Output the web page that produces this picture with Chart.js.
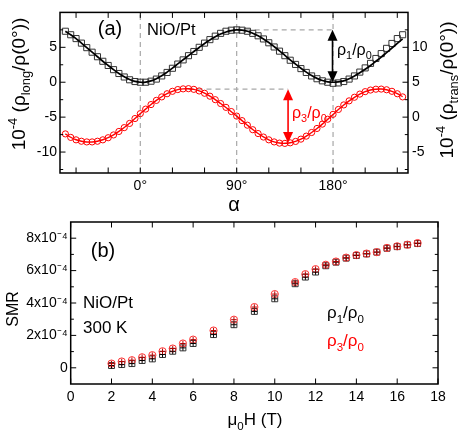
<!DOCTYPE html>
<html><head><meta charset="utf-8">
<script src="https://cdn.jsdelivr.net/npm/chart.js@4/dist/chart.umd.min.js"></script>
<style>
body{margin:0;background:#fff;width:463px;height:433px;overflow:hidden}
canvas{position:absolute;left:0;top:0}
</style></head>
<body>
<canvas id="ca" width="463" height="433"></canvas>
<canvas id="cb" width="463" height="433"></canvas>
<script>
// ---------- DATA ----------
const alphaDeg = [-70,-65,-60,-55,-50,-45,-40,-35,-30,-25,-20,-15,-10,-5,0,5,10,15,20,25,30,35,40,45,50,55,60,65,70,75,80,85,90,95,100,105,110,115,120,125,130,135,140,145,150,155,160,165,170,175,180,185,190,195,200,205,210,215,220,225,230,235,240,245];
// rho_long (left axis, 1e-4) measured squares
const rhoLongPts = [7.3,6.8,6.25,5.6,4.95,4.3,3.65,3.0,2.4,1.8,1.25,0.75,0.35,0.1,0.0,0.0,0.15,0.45,0.9,1.4,2.0,2.6,3.2,3.8,4.4,5.0,5.6,6.1,6.6,7.0,7.3,7.45,7.5,7.45,7.3,7.0,6.65,6.2,5.65,5.05,4.45,3.8,3.15,2.55,1.95,1.4,0.9,0.5,0.2,0.0,-0.15,-0.1,0.1,0.45,0.9,1.45,2.05,2.7,3.4,4.1,4.85,5.55,6.25,6.8];
// rho_long fit line
const rhoLongFit = [7.3,6.8,6.25,5.6,4.95,4.3,3.65,3.0,2.4,1.8,1.25,0.78,0.4,0.12,0.0,0.02,0.2,0.5,0.92,1.45,2.02,2.62,3.22,3.8,4.4,4.98,5.55,6.05,6.5,6.9,7.2,7.4,7.5,7.45,7.3,7.02,6.65,6.2,5.68,5.1,4.5,3.85,3.2,2.6,2.0,1.45,0.95,0.55,0.25,0.06,0.0,0.05,0.2,0.5,0.9,1.35,1.85,2.4,3.0,3.6,4.25,4.9,5.55,6.2];
// rho_trans (right axis, 1e-4) measured circles
const rhoTransPts = [-2.4,-2.9,-3.25,-3.45,-3.55,-3.55,-3.45,-3.25,-2.95,-2.55,-2.05,-1.5,-0.9,-0.2,0.5,1.15,1.8,2.4,2.9,3.35,3.7,3.95,4.05,4.08,3.98,3.75,3.42,3.0,2.5,1.95,1.4,0.8,0.15,-0.5,-1.15,-1.8,-2.35,-2.85,-3.25,-3.55,-3.72,-3.76,-3.68,-3.48,-3.15,-2.72,-2.2,-1.62,-1.0,-0.3,0.4,1.1,1.75,2.33,2.85,3.3,3.65,3.88,4.0,4.02,3.92,3.7,3.35,2.9];
// rho_trans fit line
const rhoTransFit = [-2.4,-2.88,-3.24,-3.46,-3.56,-3.56,-3.45,-3.24,-2.94,-2.54,-2.04,-1.48,-0.88,-0.2,0.5,1.15,1.8,2.4,2.92,3.36,3.7,3.94,4.05,4.07,3.98,3.76,3.43,3.0,2.5,1.95,1.38,0.78,0.14,-0.5,-1.15,-1.78,-2.34,-2.84,-3.24,-3.54,-3.71,-3.75,-3.67,-3.47,-3.15,-2.72,-2.2,-1.62,-1.0,-0.32,0.38,1.08,1.73,2.32,2.84,3.28,3.64,3.88,4.0,4.02,3.92,3.7,3.36,2.92];
const alphaTickVals = [-60,-30,0,30,60,90,120,150,180,210,240];
const alphaLabelVals = [0,90,180];
const longTickVals = [-10,-5,0,5];
const transTickVals = [-5,0,5,10];

const fieldT = [2,2.5,3,3.5,4,4.5,5,5.5,6,7,8,9,10,11,11.5,12,12.5,13,13.5,14,14.5,15,15.5,16,16.5,17];
// SMR in units of 1e-4
const smrRho1 = [0.14,0.2,0.26,0.45,0.55,0.82,1.02,1.23,1.5,2.05,2.66,3.48,4.26,5.19,5.6,5.91,6.3,6.52,6.77,6.93,7.03,7.14,7.38,7.48,7.59,7.67];
const smrRho3 = [0.26,0.39,0.47,0.65,0.78,1.02,1.19,1.5,1.74,2.3,2.97,3.75,4.55,5.29,5.78,6.09,6.36,6.56,6.8,6.96,7.05,7.14,7.4,7.5,7.6,7.7];
const fieldTickVals = [0,2,4,6,8,10,12,14,16,18];
const smrTickVals = [0,2,4,6,8];
const smrTickLabels = ['0','2x10\u207B\u2074','4x10\u207B\u2074','6x10\u207B\u2074','8x10\u207B\u2074'];

// ---------- HELPERS ----------
const FONT = "'Liberation Sans', Arial, Helvetica, sans-serif";
const pts = (xs, ys) => xs.map((x, i) => ({x, y: ys[i]}));

function rich(ctx, parts, x, y, size, color, align, rot) {
  ctx.save();
  ctx.translate(x, y);
  if (rot) ctx.rotate(rot);
  ctx.fillStyle = color;
  ctx.textBaseline = 'alphabetic';
  let w = 0;
  const items = parts.map(([t, m]) => {
    const fs = m === 'n' ? size : size * 0.68;
    ctx.font = fs + 'px ' + FONT;
    const mw = ctx.measureText(t).width;
    const dy = m === 'sub' ? size * 0.28 : (m === 'sup' ? -size * 0.42 : 0);
    const it = {t, fs, dx: w, dy};
    w += mw;
    return it;
  });
  const x0 = align === 'center' ? -w / 2 : (align === 'right' ? -w : 0);
  for (const it of items) {
    ctx.font = it.fs + 'px ' + FONT;
    ctx.fillText(it.t, x0 + it.dx, size * 0.35 + it.dy);
  }
  ctx.restore();
}

function arrow(ctx, x, y1, y2, color) {
  const hl = 11, hw = 5;
  ctx.save();
  ctx.strokeStyle = color; ctx.fillStyle = color; ctx.lineWidth = 1.6;
  ctx.beginPath(); ctx.moveTo(x, y1 + hl - 1); ctx.lineTo(x, y2 - hl + 1); ctx.stroke();
  ctx.beginPath(); ctx.moveTo(x, y1); ctx.lineTo(x - hw, y1 + hl); ctx.lineTo(x + hw, y1 + hl); ctx.closePath(); ctx.fill();
  ctx.beginPath(); ctx.moveTo(x, y2); ctx.lineTo(x - hw, y2 - hl); ctx.lineTo(x + hw, y2 - hl); ctx.closePath(); ctx.fill();
  ctx.restore();
}

function midpoints(vals, s) {
  const out = [];
  const step = vals[1] - vals[0];
  const all = [vals[0] - step, ...vals, vals[vals.length - 1] + step];
  for (let i = 0; i < all.length - 1; i++) {
    const m = (all[i] + all[i + 1]) / 2;
    if (m > s.min && m < s.max) out.push(m);
  }
  return out;
}

// frame + inward ticks
const frameTicks = {
  id: 'frameTicks',
  afterDatasetsDraw(chart, args, opts) {
    const {ctx, chartArea: a} = chart;
    ctx.save();
    ctx.strokeStyle = '#000';
    ctx.lineWidth = 1;
    const L = 5.5, Lm = 3.2;
    for (const spec of opts.axes) {
      const s = chart.scales[spec.id];
      const majors = s.ticks.map(t => t.value);
      const minors = spec.minor ? midpoints(majors, s) : [];
      const one = (v, len) => {
        const p = s.getPixelForValue(v);
        ctx.beginPath();
        if (s.isHorizontal()) {
          ctx.moveTo(p, a.bottom); ctx.lineTo(p, a.bottom - len);
          if (spec.mirror) { ctx.moveTo(p, a.top); ctx.lineTo(p, a.top + len); }
        } else if (s.position === 'left') {
          ctx.moveTo(a.left, p); ctx.lineTo(a.left + len, p);
          if (spec.mirror) { ctx.moveTo(a.right, p); ctx.lineTo(a.right - len, p); }
        } else {
          ctx.moveTo(a.right, p); ctx.lineTo(a.right - len, p);
        }
        ctx.stroke();
      };
      majors.forEach(v => one(v, L));
      minors.forEach(v => one(v, Lm));
    }
    ctx.lineWidth = 1.5;
    ctx.strokeRect(a.left, a.top, a.right - a.left, a.bottom - a.top);
    ctx.restore();
  }
};

// ---------- TOP CHART ----------
const annotA = {
  id: 'annotA',
  beforeDatasetsDraw(chart) {
    const {ctx, chartArea: a, scales: {x, yL, yR}} = chart;
    ctx.save();
    ctx.strokeStyle = '#a8a8a8'; ctx.lineWidth = 1.2; ctx.setLineDash([5, 4]);
    for (const v of alphaLabelVals) {
      const px = x.getPixelForValue(v);
      ctx.beginPath(); ctx.moveTo(px, a.bottom); ctx.lineTo(px, a.top); ctx.stroke();
    }
    let yy = yL.getPixelForValue(7.5);
    ctx.beginPath(); ctx.moveTo(x.getPixelForValue(90), yy); ctx.lineTo(x.getPixelForValue(180), yy); ctx.stroke();
    yy = yR.getPixelForValue(4.0);
    ctx.beginPath(); ctx.moveTo(x.getPixelForValue(45), yy); ctx.lineTo(x.getPixelForValue(138), yy); ctx.stroke();
    ctx.restore();
  },
  afterDraw(chart) {
    const {ctx, scales: {x, yL, yR}} = chart;
    arrow(ctx, x.getPixelForValue(179.5), yL.getPixelForValue(7.5), yL.getPixelForValue(0), '#000');
    arrow(ctx, x.getPixelForValue(138), yR.getPixelForValue(4.0), yR.getPixelForValue(-3.7), '#ff0000');
    rich(ctx, [['ρ', 'n'], ['1', 'sub'], ['/ρ', 'n'], ['0', 'sub']], 337, 49, 16, '#000', 'left');
    rich(ctx, [['ρ', 'n'], ['3', 'sub'], ['/ρ', 'n'], ['0', 'sub']], 292, 112, 16, '#ff0000', 'left');
    rich(ctx, [['(a)', 'n']], 110, 28, 20, '#000', 'center');
    rich(ctx, [['NiO/Pt', 'n']], 147, 29, 16.5, '#000', 'left');
    rich(ctx, [['α', 'n']], 234, 204, 20, '#000', 'center');
    rich(ctx, [['10', 'n'], ['-4', 'sup'], [' (ρ', 'n'], ['long', 'sub'], ['/ρ(0°))', 'n']], 18, 84, 19, '#000', 'center', -Math.PI / 2);
    rich(ctx, [['10', 'n'], ['-4', 'sup'], [' (ρ', 'n'], ['trans', 'sub'], ['/ρ(0°))', 'n']], 446, 90, 19, '#000', 'center', -Math.PI / 2);
  }
};

const tickFont = {family: FONT, size: 14};
new Chart(document.getElementById('ca'), {
  type: 'scatter',
  data: {
    datasets: [
      {data: pts(alphaDeg, rhoLongFit), yAxisID: 'yL', showLine: true, borderColor: '#000', borderWidth: 1.7, pointRadius: 0, tension: 0.3, fill: false},
      {data: pts(alphaDeg, rhoTransFit), yAxisID: 'yR', showLine: true, borderColor: '#ff0000', borderWidth: 1.4, pointRadius: 0, tension: 0.3, fill: false},
      {data: pts(alphaDeg, rhoLongPts), yAxisID: 'yL', showLine: false, pointStyle: 'rect', pointRadius: 4.3, borderColor: '#333', borderWidth: 1, backgroundColor: 'rgba(0,0,0,0)'},
      {data: pts(alphaDeg, rhoTransPts), yAxisID: 'yR', showLine: false, pointStyle: 'circle', pointRadius: 3.1, borderColor: '#ff0000', borderWidth: 1, backgroundColor: 'rgba(0,0,0,0)'}
    ]
  },
  options: {
    responsive: false, animation: false, events: [],
    layout: {padding: {top: 10, bottom: 217, left: 0, right: 0}},
    plugins: {legend: {display: false}, tooltip: {enabled: false},
      frameTicks: {axes: [{id: 'x', mirror: true, minor: false}, {id: 'yL', minor: true}, {id: 'yR', minor: true}]}},
    scales: {
      x: {type: 'linear', min: -75, max: 250,
        afterBuildTicks: s => { s.ticks = alphaTickVals.map(v => ({value: v})); },
        afterFit: s => { s.height = 43; },
        grid: {display: false, drawTicks: false}, border: {display: false},
        ticks: {font: tickFont, color: '#000', padding: 5, autoSkip: false, maxRotation: 0,
          callback: v => alphaLabelVals.includes(v) ? v + '°' : ''}},
      yL: {type: 'linear', position: 'left', min: -13, max: 10,
        afterBuildTicks: s => { s.ticks = longTickVals.map(v => ({value: v})); },
        afterFit: s => { s.width = 60; },
        grid: {display: false, drawTicks: false}, border: {display: false},
        ticks: {font: tickFont, color: '#000', padding: 3}},
      yR: {type: 'linear', position: 'right', min: -8, max: 15,
        afterBuildTicks: s => { s.ticks = transTickVals.map(v => ({value: v})); },
        afterFit: s => { s.width = 55; },
        grid: {display: false, drawTicks: false}, border: {display: false},
        ticks: {font: tickFont, color: '#000', padding: 4}}
    }
  },
  plugins: [annotA, frameTicks]
});

// ---------- BOTTOM CHART ----------
const annotB = {
  id: 'annotB',
  afterDraw(chart) {
    const {ctx} = chart;
    rich(ctx, [['(b)', 'n']], 103, 250, 20, '#000', 'center');
    rich(ctx, [['NiO/Pt', 'n']], 83, 302, 17, '#000', 'left');
    rich(ctx, [['300 K', 'n']], 83, 327, 17, '#000', 'left');
    rich(ctx, [['ρ', 'n'], ['1', 'sub'], ['/ρ', 'n'], ['0', 'sub']], 327, 312, 17, '#000', 'left');
    rich(ctx, [['ρ', 'n'], ['3', 'sub'], ['/ρ', 'n'], ['0', 'sub']], 327, 340, 17, '#ff0000', 'left');
    rich(ctx, [['SMR', 'n']], 12, 309, 16, '#000', 'center', -Math.PI / 2);
    rich(ctx, [['μ', 'n'], ['0', 'sub'], ['H (T)', 'n']], 255, 419, 17, '#000', 'center');
  }
};

new Chart(document.getElementById('cb'), {
  type: 'scatter',
  data: {
    datasets: [
      {data: pts(fieldT, smrRho3), pointStyle: 'cross', pointRadius: 2.8, borderColor: '#b00000', borderWidth: 1, showLine: false},
      {data: pts(fieldT, smrRho1), pointStyle: 'cross', pointRadius: 2.8, borderColor: '#000', borderWidth: 1, showLine: false},
      {data: pts(fieldT, smrRho3), pointStyle: 'circle', pointRadius: 3.6, borderColor: '#ff3030', borderWidth: 1, backgroundColor: 'rgba(0,0,0,0)', showLine: false},
      {data: pts(fieldT, smrRho1), pointStyle: 'rect', pointRadius: 4.2, borderColor: '#333', borderWidth: 1, backgroundColor: 'rgba(0,0,0,0)', showLine: false}
    ]
  },
  options: {
    responsive: false, animation: false, events: [],
    layout: {padding: {top: 222, bottom: 0, left: 0, right: 25}},
    plugins: {legend: {display: false}, tooltip: {enabled: false},
      frameTicks: {axes: [{id: 'x', mirror: true, minor: false}, {id: 'y', mirror: true, minor: true}]}},
    scales: {
      x: {type: 'linear', min: 0, max: 18,
        afterBuildTicks: s => { s.ticks = fieldTickVals.map(v => ({value: v})); },
        afterFit: s => { s.height = 49; },
        grid: {display: false, drawTicks: false}, border: {display: false},
        ticks: {font: tickFont, color: '#000', padding: 5, autoSkip: false, maxRotation: 0}},
      y: {type: 'linear', position: 'left', min: -1, max: 9,
        afterBuildTicks: s => { s.ticks = smrTickVals.map(v => ({value: v})); },
        afterFit: s => { s.width = 70.7; },
        grid: {display: false, drawTicks: false}, border: {display: false},
        ticks: {font: tickFont, color: '#000', padding: 3,
          callback: v => smrTickLabels[smrTickVals.indexOf(v)]}}
    }
  },
  plugins: [annotB, frameTicks]
});
</script>
</body></html>
